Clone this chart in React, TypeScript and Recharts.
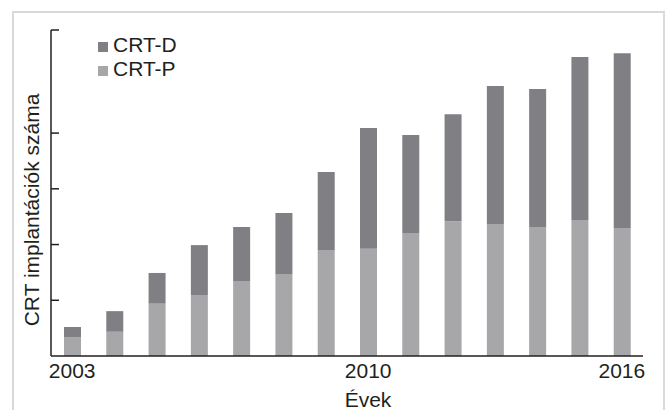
import { Bar, BarChart, Legend, XAxis, YAxis } from 'recharts'

const years = ['2003', '2004', '2005', '2006', '2007', '2008', '2009', '2010', '2011', '2012', '2013', '2014', '2015', '2016']
const crtP = [68, 87, 188, 219, 269, 294, 380, 385, 441, 484, 474, 463, 488, 459]
const crtD = [36, 74, 110, 179, 194, 219, 280, 433, 352, 384, 495, 495, 585, 628]
const labeledYears = ['2003', '2010', '2016']
const yTicks = [200, 400, 600, 800, 1170]

const FONT = '"Liberation Sans", Arial, sans-serif'
const TEXT = '#231f20'
const COLOR_D = '#808084'
const COLOR_P = '#a7a7aa'

const data = years.map((year, i) => ({ year, p: crtP[i], d: crtD[i] }))

const legendItems = [
  { name: 'CRT-D', color: COLOR_D },
  { name: 'CRT-P', color: COLOR_P },
]

const renderLegend = () => (
  <div style={{ fontFamily: FONT, fontSize: 21, color: TEXT, lineHeight: '24px' }}>
    {legendItems.map((item) => (
      <div key={item.name} style={{ position: 'relative', paddingLeft: 15, whiteSpace: 'nowrap' }}>
        <span
          style={{
            position: 'absolute',
            left: 0,
            top: 9,
            width: 10,
            height: 10,
            background: item.color,
          }}
        />
        {item.name}
      </div>
    ))}
  </div>
)

const App = () => {
  return (
    <div
      style={{
        position: 'absolute',
        left: 0,
        top: 0,
        width: 667,
        height: 410,
        overflow: 'hidden',
        background: '#fff',
      }}
    >
      <div
        style={{
          position: 'absolute',
          left: 12,
          top: 11,
          width: 649,
          height: 420,
          border: '2px solid #d9d9d9',
        }}
      />
      <div style={{ position: 'absolute', left: 0, top: 0 }}>
        <BarChart
          width={667}
          height={410}
          data={data}
          barCategoryGap={0}
          margin={{ top: 30, right: 24, bottom: 0, left: 50 }}
        >
          <XAxis
            dataKey="year"
            height={54}
            interval={0}
            tickLine={false}
            tickSize={0}
            tickMargin={7}
            axisLine={{ stroke: TEXT, strokeWidth: 1.5 }}
            tick={{ fill: TEXT, fontSize: 21, fontFamily: FONT }}
            tickFormatter={(v) => (labeledYears.includes(v) ? v : '')}
            label={{
              value: 'Évek',
              position: 'insideBottom',
              offset: 3,
              dx: 21,
              fill: TEXT,
              fontSize: 21,
              fontFamily: FONT,
            }}
          />
          <YAxis
            width={1}
            domain={[0, 1170]}
            ticks={yTicks}
            interval={0}
            tickFormatter={() => ''}
            tickSize={-8}
            tickMargin={0}
            tickLine={{ stroke: TEXT, strokeWidth: 1.5 }}
            axisLine={{ stroke: TEXT, strokeWidth: 1.5 }}
            label={{
              value: 'CRT implantációk száma',
              angle: -90,
              position: 'center',
              dx: -18.5,
              dy: 17,
              fill: TEXT,
              fontSize: 21,
              fontFamily: FONT,
            }}
          />
          <Legend
            layout="vertical"
            align="center"
            verticalAlign="middle"
            content={renderLegend}
            wrapperStyle={{ left: 98, top: 33, width: 'auto' }}
          />
          <Bar dataKey="p" name="CRT-P" stackId="a" barSize={17} fill={COLOR_P} isAnimationActive={false} />
          <Bar dataKey="d" name="CRT-D" stackId="a" barSize={17} fill={COLOR_D} isAnimationActive={false} />
        </BarChart>
      </div>
    </div>
  )
}

export default App
